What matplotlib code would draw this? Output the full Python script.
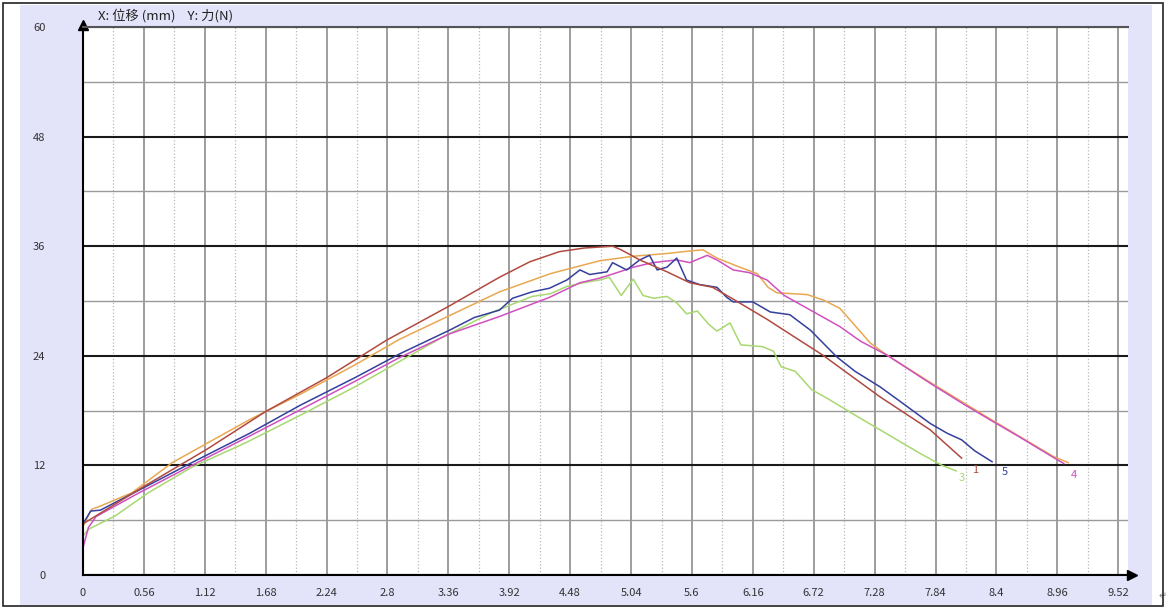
import matplotlib
matplotlib.use("Agg")
import matplotlib.pyplot as plt
from matplotlib.patches import Rectangle

plt.rcParams['font.family'] = ['Noto Sans CJK SC', 'DejaVu Sans']

# tick labels
x_ticks = [0, 0.56, 1.12, 1.68, 2.24, 2.8, 3.36, 3.92, 4.48, 5.04, 5.6,
           6.16, 6.72, 7.28, 7.84, 8.4, 8.96, 9.52]
x_tick_labels = ['0', '0.56', '1.12', '1.68', '2.24', '2.8', '3.36', '3.92', '4.48',
                 '5.04', '5.6', '6.16', '6.72', '7.28', '7.84', '8.4', '8.96', '9.52']
y_ticks = [0, 12, 24, 36, 48, 60]

# curve 1 (brown)
x1 = [0.0, 0.56, 1.13, 1.68, 2.24, 2.79, 3.36, 3.83, 4.11, 4.38, 4.61, 4.87, 4.95,
      5.12, 5.37, 5.58, 5.79, 5.98, 6.29, 6.59, 6.8, 7.33, 7.79, 8.08]
y1 = [5.6, 9.7, 13.7, 17.9, 21.6, 25.7, 29.4, 32.6, 34.3, 35.4, 35.8, 36.0, 35.6,
      34.5, 33.2, 32.0, 31.5, 30.2, 28.0, 25.7, 24.1, 19.5, 15.9, 12.8]

# curve 2 (orange)
x2 = [0.0, 0.08, 0.15, 0.45, 0.82, 1.53, 2.0, 2.5, 2.91, 3.37, 3.83, 4.3, 4.75, 5.06,
      5.37, 5.6, 5.7, 5.83, 6.04, 6.2, 6.3, 6.38, 6.66, 6.81, 6.96, 7.1, 7.24, 7.39,
      7.79, 8.34, 8.92, 9.06]
y2 = [5.3, 7.2, 7.5, 9.0, 12.3, 17.0, 19.8, 23.0, 25.8, 28.4, 31.0, 33.0, 34.4, 34.9,
      35.2, 35.5, 35.6, 34.7, 33.7, 33.0, 31.5, 30.9, 30.7, 30.1, 29.2, 27.3, 25.4, 24.1,
      21.1, 17.1, 13.0, 12.3]

# curve 3 (green)
x3 = [0.0, 0.05, 0.3, 0.6, 1.0, 1.5, 2.0, 2.5, 2.9, 3.3, 3.77, 4.13, 4.3, 4.45, 4.6,
      4.75, 4.84, 4.95, 5.06, 5.15, 5.25, 5.37, 5.46, 5.55, 5.65, 5.75, 5.83, 5.95,
      6.05, 6.25, 6.35, 6.42, 6.55, 6.7, 6.85, 7.1, 7.4, 7.7, 7.9, 8.03]
y3 = [4.3, 5.0, 6.5, 9.0, 11.8, 14.5, 17.5, 20.6, 23.3, 26.0, 28.8, 30.5, 30.8, 31.6,
      32.0, 32.3, 32.6, 30.6, 32.4, 30.6, 30.3, 30.5, 29.8, 28.6, 28.9, 27.5, 26.7, 27.6,
      25.2, 25.0, 24.5, 22.8, 22.3, 20.3, 19.3, 17.5, 15.4, 13.3, 12.0, 11.4]

# curve 4 (magenta)
x4 = [0.0, 0.05, 0.12, 0.5, 1.0, 1.53, 2.0, 2.5, 2.91, 3.37, 3.83, 4.29, 4.57, 4.75,
      4.91, 5.06, 5.24, 5.46, 5.58, 5.74, 5.83, 5.98, 6.13, 6.29, 6.45, 6.66, 6.96,
      7.15, 7.39, 7.79, 8.1, 8.34, 8.6, 8.92, 9.02]
y4 = [3.0, 5.2, 6.4, 8.9, 12.0, 15.2, 18.1, 21.2, 23.8, 26.4, 28.3, 30.4, 32.0, 32.5,
      33.1, 33.7, 34.2, 34.5, 34.2, 35.0, 34.5, 33.4, 33.1, 32.3, 30.6, 29.2, 27.2,
      25.6, 24.1, 21.0, 18.7, 17.0, 15.2, 12.9, 12.2]

# curve 5 (blue)
x5 = [0.0, 0.07, 0.16, 0.5, 1.0, 1.53, 2.0, 2.5, 2.91, 3.37, 3.6, 3.83, 3.95, 4.13,
      4.29, 4.45, 4.57, 4.66, 4.82, 4.87, 5.0, 5.12, 5.21, 5.28, 5.37, 5.46, 5.55, 5.67,
      5.83, 5.92, 5.98, 6.16, 6.32, 6.5, 6.69, 6.93, 7.1, 7.33, 7.55, 7.79, 7.95, 8.08,
      8.2, 8.36]
y5 = [5.6, 7.0, 7.1, 9.2, 12.3, 15.5, 18.6, 21.6, 24.2, 26.8, 28.2, 29.0, 30.3, 31.0,
      31.4, 32.3, 33.4, 32.9, 33.2, 34.2, 33.4, 34.5, 35.0, 33.4, 33.7, 34.7, 32.3, 31.8,
      31.5, 30.4, 29.9, 29.9, 28.8, 28.5, 26.8, 23.9, 22.3, 20.6, 18.7, 16.6, 15.5, 14.8,
      13.6, 12.4]

curves = [
    (x3, y3, '#a8d870', '3', 8.08, 10.6),
    (x2, y2, '#e8a850', '', 0, 0),
    (x4, y4, '#d050c0', '4', 9.11, 11.0),
    (x5, y5, '#34409c', '5', 8.48, 11.3),
    (x1, y1, '#b04a40', '1', 8.2, 11.5),
]

W, H = 1170, 609
fig = plt.figure(figsize=(W / 100, H / 100), dpi=100)
fig.patch.set_facecolor('white')

# lavender panel and outer frame
fig.add_artist(Rectangle((20 / W, (H - 605) / H), (1152 - 20) / W, (605 - 5) / H,
                         transform=fig.transFigure, facecolor='#e3e3fa',
                         edgecolor='none', zorder=-5))
fig.add_artist(Rectangle((3 / W, (H - 606) / H), (1163 - 3) / W, (606 - 3) / H,
                         transform=fig.transFigure, facecolor='none',
                         edgecolor='#222222', lw=1.2, zorder=5))

ax = fig.add_axes([83 / W, (H - 575) / H, (1128 - 83) / W, (575 - 27) / H])
ax.set_zorder(2)
ax.set_facecolor('white')
ax.set_xlim(0, 9.61)
ax.set_ylim(0, 60)

ax.set_xticks(x_ticks)
ax.set_xticklabels(x_tick_labels)
ax.set_xticks([t + 0.28 for t in x_ticks[:-1]], minor=True)
ax.set_yticks(y_ticks)
ax.set_yticks([6, 18, 30, 42, 54], minor=True)
ax.tick_params(which='both', length=0)
ax.tick_params(axis='x', pad=9, labelsize=8, labelcolor='#333333')
ax.tick_params(axis='y', pad=27, labelsize=8, labelcolor='#333333')

ax.xaxis.grid(True, which='major', color='#8c8c8c', lw=1.2)
ax.xaxis.grid(True, which='minor', color='#b8b8b8', lw=0.9, ls=':')
ax.yaxis.grid(True, which='major', color='#1a1a1a', lw=1.5)
ax.yaxis.grid(True, which='minor', color='#9a9a9a', lw=1.0)
ax.set_axisbelow(True)

ax.spines['right'].set_visible(False)
ax.spines['top'].set_color('#555555')
ax.spines['top'].set_linewidth(1.5)
ax.spines['left'].set_color('black')
ax.spines['left'].set_linewidth(1.5)
ax.spines['bottom'].set_color('black')
ax.spines['bottom'].set_linewidth(1.5)

# axis arrows
ax.plot(1.004, 0, marker='>', color='black', ms=7, transform=ax.transAxes, clip_on=False)
ax.plot(0, 1.004, marker='^', color='black', ms=7, transform=ax.transAxes, clip_on=False)

for xs, ys, c, lab, lx, ly in curves:
    ax.plot(xs, ys, color=c, lw=1.1)
    if lab:
        ax.text(lx, ly, lab, color=c, fontsize=8, ha='center', va='center')

fig.text(98 / W, 1 - 16 / H, 'X: 位移 (mm)    Y: 力(N)', fontsize=9.5, color='#222222',
         va='center', ha='left')
fig.text(1163 / W, 1 - 596 / H, '↵', fontsize=7, color='#888888', va='center', ha='center',
         family=['DejaVu Sans'])

fig.savefig('out.png', dpi=100, facecolor=fig.get_facecolor())
